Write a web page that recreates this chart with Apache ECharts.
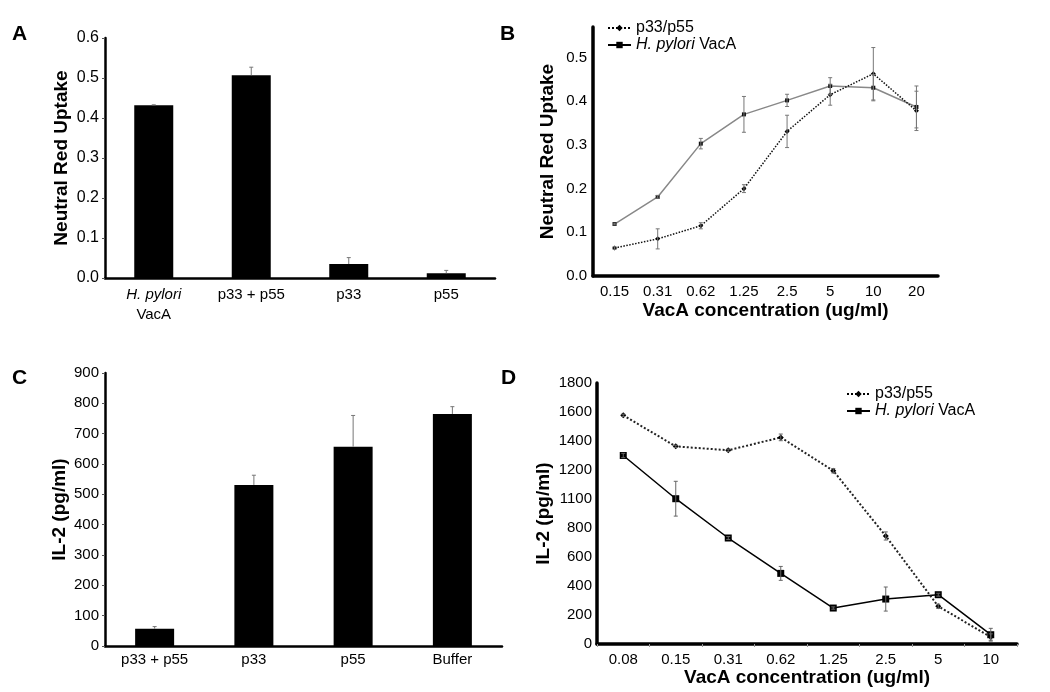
<!DOCTYPE html>
<html>
<head>
<meta charset="utf-8">
<script src="https://cdn.jsdelivr.net/npm/echarts@6/dist/echarts.min.js"></script>
<style>html,body{margin:0;padding:0;background:#fff;}#c{width:1050px;height:692px;}</style>
</head>
<body>
<div id="c"></div>
<script>
// Panel A
var catsA = ['H. pylori VacA', 'p33 + p55', 'p33', 'p55'];
var valsA = [0.432, 0.507, 0.035, 0.012];
var errA = [0.001, 0.020, 0.016, 0.007];
var ticksA = ['0.0', '0.1', '0.2', '0.3', '0.4', '0.5', '0.6'];

// Panel B
var concB = ['0.15', '0.31', '0.62', '1.25', '2.5', '5', '10', '20'];
var vacaB = [0.119, 0.181, 0.303, 0.370, 0.402, 0.435, 0.431, 0.387];
var vacaBErr = [0.002, 0.003, 0.012, 0.041, 0.014, 0.019, 0.030, 0.048];
var p33B = [0.064, 0.085, 0.115, 0.200, 0.331, 0.415, 0.463, 0.378];
var p33BErr = [0.003, 0.023, 0.007, 0.009, 0.037, 0.024, 0.060, 0.045];
var ticksB = ['0.0', '0.1', '0.2', '0.3', '0.4', '0.5'];

// Panel C
var catsC = ['p33 + p55', 'p33', 'p55', 'Buffer'];
var valsC = [57, 531, 657, 765];
var errC = [7, 32, 103, 24];

// Panel D
var concD = ['0.08', '0.15', '0.31', '0.62', '1.25', '2.5', '5', '10'];
var vacaD = [1300, 1002, 731, 487, 248, 310, 340, 64];
var vacaDErr = [15, 120, 10, 48, 8, 83, 10, 44];
var p33D = [1577, 1363, 1336, 1425, 1195, 745, 260, 48];
var p33DErr = [8, 8, 8, 23, 15, 28, 15, 22];
var ticksD = ['0', '200', '400', '600', '800', '1100', '1200', '1400', '1600', '1800'];

var FONT = 'Liberation Sans';

function errData(vals, errs) {
  return vals.map(function (v, i) { return [i, v, errs[i]]; });
}
function errRender(capW, both, color) {
  return function (params, api) {
    var x = api.value(0), v = api.value(1), e = api.value(2);
    var top = api.coord([x, v + e]);
    var bot = api.coord([x, both ? v - e : v]);
    var st = { stroke: color, lineWidth: 1 };
    var ch = [
      { type: 'line', shape: { x1: top[0], y1: top[1], x2: bot[0], y2: bot[1] }, style: st },
      { type: 'line', shape: { x1: top[0] - capW, y1: top[1], x2: top[0] + capW, y2: top[1] }, style: st }
    ];
    if (both) ch.push({ type: 'line', shape: { x1: bot[0] - capW, y1: bot[1], x2: bot[0] + capW, y2: bot[1] }, style: st });
    return { type: 'group', children: ch };
  };
}

var nameStyle = { color: '#000', fontFamily: FONT, fontSize: 19, fontWeight: 'bold' };

function legendFmt(name) { return name === 'H. pylori VacA' ? '{i|H. pylori} VacA' : name; }
var legendText = { fontFamily: FONT, fontSize: 16, color: '#000', rich: { i: { fontFamily: FONT, fontSize: 16, fontStyle: 'italic', color: '#000' } } };
function legendData() {
  return [
    { name: 'p33/p55', itemStyle: { color: '#000' }, lineStyle: { color: '#000', type: 'dotted', width: 2 } },
    { name: 'H. pylori VacA', itemStyle: { color: '#000' }, lineStyle: { color: '#000', type: 'solid', width: 2 } }
  ];
}

var chart = echarts.init(document.getElementById('c'), null, { renderer: 'canvas' });
var option = {
  backgroundColor: '#fff',
  animation: false,
  graphic: [
    { type: 'text', left: 12, top: 24, style: { text: 'A', font: 'bold 21px "Liberation Sans"', fill: '#000' } },
    { type: 'text', left: 500, top: 24, style: { text: 'B', font: 'bold 21px "Liberation Sans"', fill: '#000' } },
    { type: 'text', left: 12, top: 368, style: { text: 'C', font: 'bold 21px "Liberation Sans"', fill: '#000' } },
    { type: 'text', left: 501, top: 368, style: { text: 'D', font: 'bold 21px "Liberation Sans"', fill: '#000' } }
  ],
  legend: [
    {
      orient: 'vertical', left: 607, top: 20, itemWidth: 23, itemHeight: 8, itemGap: 1, padding: 0,
      formatter: legendFmt, textStyle: legendText, selectedMode: false, data: legendData()
    },
    {
      orient: 'vertical', left: 846, top: 386, itemWidth: 23, itemHeight: 8, itemGap: 1, padding: 0,
      formatter: legendFmt, textStyle: legendText, selectedMode: false, data: legendData()
    }
  ],
  grid: [
    { left: 105, top: 38, width: 390, height: 240 },
    { left: 593, top: 27, width: 345, height: 249 },
    { left: 105, top: 373, width: 397, height: 273 },
    { left: 597, top: 383, width: 420, height: 261 }
  ],
  xAxis: [
    {
      gridIndex: 0, type: 'category', data: catsA,
      axisLine: { lineStyle: { color: '#000', width: 2.5 } }, axisTick: { show: false },
      axisLabel: {
        margin: 7, color: '#000', fontFamily: FONT, fontSize: 15, lineHeight: 20,
        formatter: function (v) { return v === 'H. pylori VacA' ? '{i|H. pylori}\nVacA' : v; },
        rich: { i: { fontStyle: 'italic', fontFamily: FONT, fontSize: 15, color: '#000', lineHeight: 20 } }
      }
    },
    {
      gridIndex: 1, type: 'category', data: concB, boundaryGap: true,
      axisLine: { lineStyle: { color: '#000', width: 3.5 } }, axisTick: { show: false },
      axisLabel: { margin: 8, color: '#000', fontFamily: FONT, fontSize: 15 },
      name: 'VacA concentration (ug/ml)', nameLocation: 'middle', nameGap: 25, nameTextStyle: nameStyle
    },
    {
      gridIndex: 2, type: 'category', data: catsC,
      axisLine: { lineStyle: { color: '#000', width: 2.5 } }, axisTick: { show: false },
      axisLabel: { margin: 6, color: '#000', fontFamily: FONT, fontSize: 15 }
    },
    {
      gridIndex: 3, type: 'category', data: concD, boundaryGap: true,
      axisLine: { lineStyle: { color: '#000', width: 3.5 } },
      axisTick: { show: true, length: 3, lineStyle: { color: '#999', width: 1 } },
      axisLabel: { margin: 8, color: '#000', fontFamily: FONT, fontSize: 15 },
      name: 'VacA concentration (ug/ml)', nameLocation: 'middle', nameGap: 23, nameTextStyle: nameStyle
    }
  ],
  yAxis: [
    {
      gridIndex: 0, type: 'value', min: 0, max: 0.6, interval: 0.1,
      axisLine: { show: true, lineStyle: { color: '#000', width: 2.5 } },
      axisTick: { show: true, length: 3, lineStyle: { color: '#555' } }, splitLine: { show: false },
      axisLabel: { margin: 6, color: '#000', fontFamily: FONT, fontSize: 16,
        formatter: function (v) { return ticksA[Math.round(v * 10)]; } },
      name: 'Neutral Red Uptake', nameLocation: 'middle', nameGap: 34, nameTextStyle: nameStyle
    },
    {
      gridIndex: 1, type: 'value', min: 0, max: 0.57, interval: 0.1,
      axisLine: { show: true, lineStyle: { color: '#000', width: 3.5 } },
      axisTick: { show: false }, splitLine: { show: false },
      axisLabel: { margin: 6, color: '#000', fontFamily: FONT, fontSize: 15, showMaxLabel: false,
        formatter: function (v) { var k = Math.round(v * 10); return Math.abs(v * 10 - k) < 1e-6 ? (ticksB[k] || '') : ''; } },
      name: 'Neutral Red Uptake', nameLocation: 'middle', nameGap: 36, nameTextStyle: nameStyle
    },
    {
      gridIndex: 2, type: 'value', min: 0, max: 900, interval: 100,
      axisLine: { show: true, lineStyle: { color: '#000', width: 2.5 } },
      axisTick: { show: true, length: 3, lineStyle: { color: '#555' } }, splitLine: { show: false },
      axisLabel: { margin: 6, color: '#000', fontFamily: FONT, fontSize: 15 },
      name: 'IL-2 (pg/ml)', nameLocation: 'middle', nameGap: 36, nameTextStyle: nameStyle
    },
    {
      gridIndex: 3, type: 'value', min: 0, max: 1800, interval: 200,
      axisLine: { show: true, lineStyle: { color: '#000', width: 3.5 } },
      axisTick: { show: false }, splitLine: { show: false },
      axisLabel: { margin: 5, color: '#000', fontFamily: FONT, fontSize: 15,
        formatter: function (v) { return ticksD[Math.round(v / 200)]; } },
      name: 'IL-2 (pg/ml)', nameLocation: 'middle', nameGap: 44, nameTextStyle: nameStyle
    }
  ],
  series: [
    // A
    { type: 'bar', xAxisIndex: 0, yAxisIndex: 0, data: valsA, barWidth: 39, itemStyle: { color: '#000' } },
    { type: 'custom', xAxisIndex: 0, yAxisIndex: 0, data: errData(valsA, errA), renderItem: errRender(2, false, '#777'), z: 5, encode: { x: 0, y: 1 } },
    // B
    { name: 'H. pylori VacA', type: 'line', xAxisIndex: 1, yAxisIndex: 1, data: vacaB, symbol: 'rect', symbolSize: 4,
      lineStyle: { color: '#888', width: 1.5 }, itemStyle: { color: '#111' }, z: 3 },
    { name: 'p33/p55', type: 'line', xAxisIndex: 1, yAxisIndex: 1, data: p33B, symbol: 'diamond', symbolSize: 5,
      lineStyle: { color: '#111', width: 1.5, type: 'dotted' }, itemStyle: { color: '#000' }, z: 3 },
    { type: 'custom', xAxisIndex: 1, yAxisIndex: 1, data: errData(vacaB, vacaBErr), renderItem: errRender(2, true, '#777'), z: 4, encode: { x: 0, y: 1 } },
    { type: 'custom', xAxisIndex: 1, yAxisIndex: 1, data: errData(p33B, p33BErr), renderItem: errRender(2, true, '#777'), z: 4, encode: { x: 0, y: 1 } },
    // C
    { type: 'bar', xAxisIndex: 2, yAxisIndex: 2, data: valsC, barWidth: 39, itemStyle: { color: '#000' } },
    { type: 'custom', xAxisIndex: 2, yAxisIndex: 2, data: errData(valsC, errC), renderItem: errRender(2, false, '#777'), z: 5, encode: { x: 0, y: 1 } },
    // D
    { name: 'H. pylori VacA', type: 'line', xAxisIndex: 3, yAxisIndex: 3, data: vacaD, symbol: 'rect', symbolSize: 7,
      lineStyle: { color: '#000', width: 1.5 }, itemStyle: { color: '#000' }, z: 3 },
    { name: 'p33/p55', type: 'line', xAxisIndex: 3, yAxisIndex: 3, data: p33D, symbol: 'diamond', symbolSize: 6,
      lineStyle: { color: '#222', width: 2, type: 'dotted' }, itemStyle: { color: '#000' }, z: 3 },
    { type: 'custom', xAxisIndex: 3, yAxisIndex: 3, data: errData(vacaD, vacaDErr), renderItem: errRender(2, true, '#666'), z: 4, encode: { x: 0, y: 1 } },
    { type: 'custom', xAxisIndex: 3, yAxisIndex: 3, data: errData(p33D, p33DErr), renderItem: errRender(2, true, '#666'), z: 4, encode: { x: 0, y: 1 } }
  ]
};
chart.setOption(option);
</script>
</body>
</html>
